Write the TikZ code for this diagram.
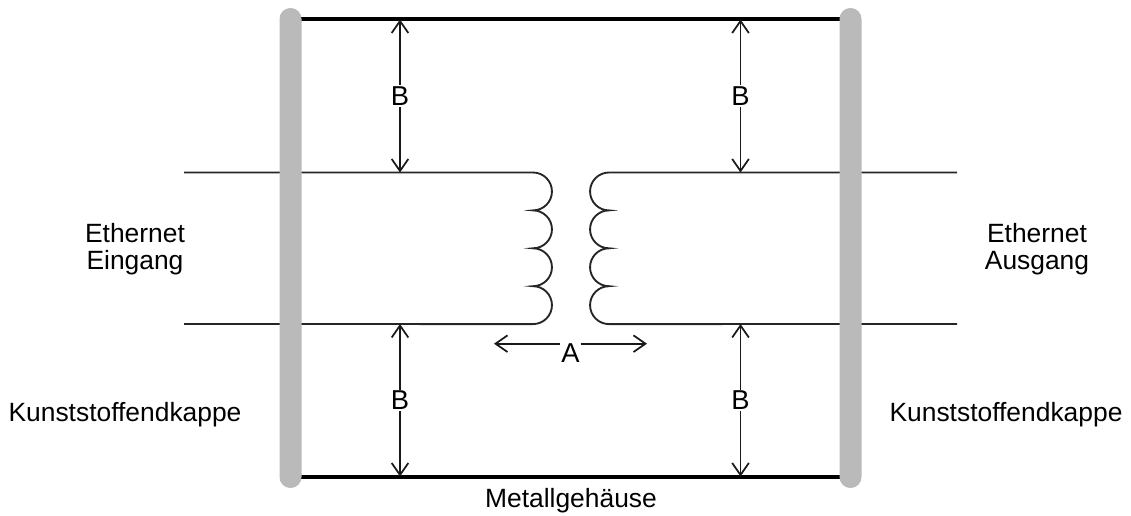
\documentclass[tikz,border=0pt]{standalone}
\usepackage{fontspec}
\setmainfont{Liberation Sans}
\usetikzlibrary{arrows.meta}
\tikzset{
  px/.style={x=0.75pt,y=-0.75pt},
  wire/.style={draw=black!85,line width=1.4pt},
  casing/.style={draw=black,line width=3pt},
  endcap/.style={draw=none,fill=black!27,rounded corners=8.2pt},
  dimtwo/.style={draw=black!90,line width=1.3pt,{Straight Barb[length=9pt,width=12.5pt,line width=1.3pt]}-{Straight Barb[length=9pt,width=12.5pt,line width=1.3pt]}},
  dimone/.style={draw=black!90,line width=1.3pt,-{Straight Barb[length=9pt,width=12.5pt,line width=1.3pt]}},
  lab/.style={font=\fontsize{19.8}{20.25}\selectfont,inner sep=0pt,align=center},
  lett/.style={font=\fontsize{20.5}{24}\selectfont,inner sep=1pt,fill=white}
}
\begin{document}
\begin{tikzpicture}[px]
\useasboundingbox (0,0) rectangle (1131,516);
\coordinate (tl) at (301,19.5);
\coordinate (tr) at (840,19.5);
\coordinate (bl) at (301,476.5);
\coordinate (br) at (840,476.5);
\coordinate (w1a) at (184,172.5);
\coordinate (w1b) at (533,172.5);
\coordinate (w2a) at (184,324);
\coordinate (w3a) at (957,172.5);
\coordinate (w3b) at (609,172.5);
\coordinate (w4a) at (957,324);
\coordinate (bt1) at (400,19.5);
\coordinate (bm1) at (400,172.5);
\coordinate (bt2) at (740.5,19.5);
\coordinate (bm2) at (740.5,172.5);
\coordinate (bd1) at (400,324);
\coordinate (bb1) at (400,476.5);
\coordinate (bd2) at (740.5,324);
\coordinate (bb2) at (740.5,476.5);
\coordinate (al) at (494,343.7);
\coordinate (al2) at (560,343.7);
\coordinate (ar) at (647,343.7);
\coordinate (ar2) at (580.7,343.7);
\draw[casing] (tl) -- (tr);
\draw[casing] (bl) -- (br);
\draw[wire] (w1a) -- (w1b)
  arc[start angle=-90,end angle=90,radius=18.95]
  arc[start angle=-90,end angle=90,radius=18.95]
  arc[start angle=-90,end angle=90,radius=18.95]
  arc[start angle=-90,end angle=90,radius=18.95]
  -- (w2a);
\draw[wire] (w3a) -- (w3b)
  arc[start angle=-90,end angle=-270,radius=18.95]
  arc[start angle=-90,end angle=-270,radius=18.95]
  arc[start angle=-90,end angle=-270,radius=18.95]
  arc[start angle=-90,end angle=-270,radius=18.95]
  -- (w4a);
\fill[endcap] (279.5,8) rectangle (301.5,488);
\fill[endcap] (839.5,8) rectangle (861.5,488);
\draw[dimtwo] (bt1) -- (bm1) node[midway,lett] (b1) {B};
\draw[dimtwo] (bt2) -- (bm2) node[midway,lett] (b2) {B};
\draw[dimtwo] (bd1) -- (bb1) node[midway,lett] (b3) {B};
\draw[dimtwo] (bd2) -- (bb2) node[midway,lett] (b4) {B};
\node[lett,fill=none,inner sep=0pt] (a) at (570.5,353) {A};
\draw[dimone] (al2) -- (al);
\draw[dimone] (ar2) -- (ar);
\node[lab] (ein) at (135,249.5) {Ethernet\\Eingang};
\node[lab] (aus) at (1037,249.5) {Ethernet\\Ausgang};
\node[lab,anchor=base] (k1) at (125,421.5) {Kunststoffendkappe};
\node[lab,anchor=base] (k2) at (1006,421.5) {Kunststoffendkappe};
\node[lab,anchor=base] (m) at (571,507.5) {Metallgehäuse};
\end{tikzpicture}
\end{document}
